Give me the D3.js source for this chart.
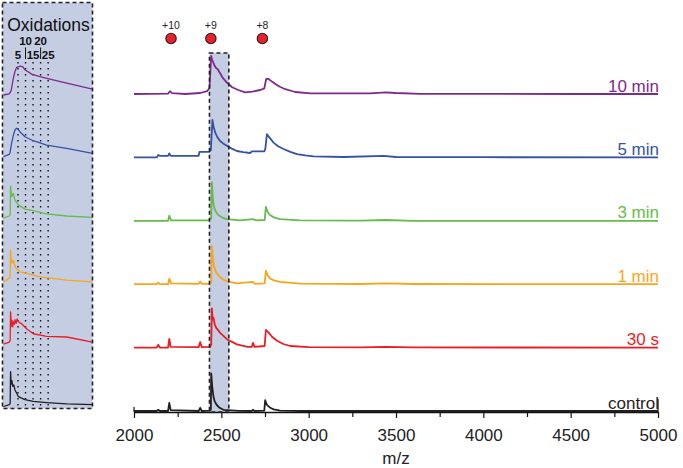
<!DOCTYPE html>
<html><head><meta charset="utf-8">
<script src="https://cdn.jsdelivr.net/npm/d3@7"></script>
<style>
html,body{margin:0;padding:0;background:#fff;}
svg{display:block;font-family:"Liberation Sans",Arial,Helvetica,sans-serif;}
</style>
</head><body>
<svg id="chart" width="683" height="468"></svg>
<script>
// ---------- data ----------
const samples = ["control", "30 s", "1 min", "3 min", "5 min", "10 min"];
const sampleColors = ["#231f20", "#ed1c24", "#f9a51a", "#66bb4a", "#3553a4", "#7e2a8a"];
const xTickValues = [2000, 2500, 3000, 3500, 4000, 4500, 5000];
const chargeLabels = ["+10", "+9", "+8"];
const chargeMz = [2212, 2440, 2735];
const windowMz = [2432, 2543];
const oxidationTicks = [5, 10, 15, 20, 25];

// main spectra: [m/z, relative intensity]
const specControl = [[2000,0],[2130,0],[2139,3],[2148,0],[2195,0],[2202,20],[2210,2],[2370,0],[2379,8],[2388,0],[2436,1],[2440,4],[2442,94],[2448,60],[2455,36],[2462,24],[2474,15],[2490,8],[2512,3],[2600,0.5],[2675,0],[2681,3],[2690,0],[2746,1],[2751,27],[2760,16],[2780,8],[2800,4],[2837,1],[2950,0],[5000,0]];
const spec30s = [[2000,0],[2130,0],[2139,7],[2148,0],[2195,0],[2202,22],[2210,2],[2370,1],[2379,14],[2388,1],[2436,2],[2442,8],[2446,98],[2450,70],[2455,75],[2462,58],[2470,50],[2493,37],[2532,21],[2589,8],[2650,2],[2675,2],[2681,12],[2690,2],[2748,4],[2755,44],[2770,38],[2790,27],[2819,17],[2855,9],[2895,4],[3000,1],[3300,0.5],[3440,2],[3600,0.5],[5000,0]];
const spec1min = [[2000,0],[2130,0],[2139,4],[2148,0],[2195,0],[2202,14],[2212,2],[2370,1],[2379,7],[2388,1],[2436,1],[2442,6],[2446,96],[2452,60],[2459,43],[2470,30],[2484,22],[2505,13],[2532,7],[2589,2],[2681,6],[2690,1],[2748,2],[2755,34],[2765,22],[2780,14],[2805,9],[2837,6],[2950,1.5],[3300,0.5],[3440,2],[3600,0.5],[5000,0]];
const spec3min = [[2000,0],[2195,0],[2202,13],[2212,1],[2430,1],[2442,6],[2446,96],[2452,52],[2459,33],[2470,22],[2484,14],[2505,8],[2532,4],[2608,1],[2681,4],[2700,1],[2748,2],[2755,35],[2765,22],[2780,14],[2805,8],[2837,4],[2950,1],[3300,0.5],[3440,2],[3600,0],[5000,0]];
const spec5min = [[2000,0],[2130,0],[2139,6],[2150,4],[2195,4],[2202,10],[2210,4],[2370,4],[2375,14],[2430,14],[2440,18],[2449,94],[2456,76],[2465,62],[2478,50],[2493,41],[2510,35],[2532,29],[2560,22],[2589,16],[2625,13],[2665,11],[2675,15],[2746,15],[2752,22],[2761,58],[2775,50],[2799,37],[2825,28],[2856,21],[2895,14],[2933,8],[2980,5],[3028,2.5],[3200,1],[3428,4],[3500,1],[4000,0.5],[5000,0]];
const spec10min = [[2000,0],[2092,0.5],[2195,1],[2206,7],[2218,2],[2293,0],[2379,2.5],[2419,7],[2432,15],[2442,95],[2448,85],[2453,80],[2462,70],[2470,65],[2480,62],[2488,55],[2496,50],[2505,42],[2528,30],[2562,17],[2597,10],[2637,4],[2677,6],[2723,10],[2746,14],[2757,38],[2769,38],[2790,31],[2809,25],[2835,18],[2866,12],[2923,5],[3010,1.5],[3182,1.5],[3354,1.5],[3440,4],[3497,2.5],[3640,0.5],[4099,0.5],[4500,0],[5000,0]];

// inset (zoom on +9 ion): [number of oxidations, relative intensity]
const insetControl = [[-4.6,0],[-0.8,5],[-0.2,8],[0.1,97],[0.5,62],[1.0,72],[1.5,56],[2.2,60],[3.0,46],[4.0,38],[5.2,28],[7.0,24],[9.6,19],[15.1,14],[24.0,11],[37.3,7.5],[54.4,5]];
const inset30s = [[-4.6,0],[-0.8,6],[-0.2,10],[0.1,90],[0.6,50],[1.0,66],[1.5,48],[2.0,62],[2.6,55],[3.0,68],[3.8,58],[4.4,70],[5.2,64],[6.0,60],[7.4,57],[10.7,43],[15.1,29],[24.0,22],[37.3,20],[54.4,6]];
const inset1min = [[-4.6,0],[-0.8,10],[-0.2,14],[0.1,89],[0.6,55],[1.0,52],[1.6,60],[2.3,56],[3.0,44],[3.6,38],[6.3,28],[10.7,24],[19.6,14],[37.3,5],[54.4,0]];
const inset3min = [[-4.6,4],[-0.8,10],[-0.2,14],[0.1,93],[0.6,66],[1.0,64],[1.9,73],[3.0,54],[5.2,41],[9.6,29],[15.1,25],[24.0,16],[37.3,10],[54.4,6]];
const inset5min = [[-4.6,2],[-0.8,8],[-0.3,12],[0.8,40],[2.0,62],[3.0,76],[4.1,81],[5.0,78],[6.3,71],[9.6,57],[15.1,46],[24.0,34],[37.3,25],[54.4,11]];
const inset10min = [[-4.6,0],[-0.8,3],[0.3,10],[0.8,20],[2.0,48],[3.0,65],[4.0,76],[5.0,78],[6.5,80],[8.3,78],[9.6,70],[14.1,58],[19.6,51],[26.2,44],[37.3,33],[54.4,16]];

const spectra = [specControl, spec30s, spec1min, spec3min, spec5min, spec10min];
const insets = [insetControl, inset30s, inset1min, inset3min, inset5min, inset10min];

// ---------- drawing ----------
const svg = d3.select("#chart");
const FONT = 17;

const x = d3.scaleLinear().domain([2000, 5000]).range([134, 658]);
const row = d3.scalePoint().domain(samples).range([411, 94]);
const yInt = d3.scaleLinear().domain([0, 100]).range([0, 40]);

const xo = d3.scaleLinear().domain([-4.6, 54.4]).range([3.5, 92.5]);
const rowIn = d3.scalePoint().domain(samples).range([406.5, 95]);
const yIn = d3.scaleLinear().domain([0, 100]).range([0, 36]);

const boxFill = "#c5cde3";

// ---- inset panel ----
const inset = svg.append("g");
inset.append("rect").attr("x", 2.5).attr("y", 2.5).attr("width", 90).attr("height", 406)
  .attr("fill", boxFill).attr("stroke", "none");

inset.append("text").attr("x", 48.5).attr("y", 31).attr("text-anchor", "middle")
  .attr("font-size", 17.5).attr("fill", "#111").text("Oxidations");

oxidationTicks.forEach((n, i) => {
  const top = (i % 2 === 1);
  inset.append("text").attr("x", xo(n)).attr("y", top ? 45 : 58.5)
    .attr("text-anchor", "middle").attr("font-size", 11.5).attr("font-weight", "bold")
    .attr("fill", "#111").text(n);
  if (top) {
    inset.append("line").attr("x1", xo(n)).attr("x2", xo(n)).attr("y1", 47.5).attr("y2", 59)
      .attr("stroke", "#111").attr("stroke-width", 1);
  }
  inset.append("line").attr("x1", xo(n)).attr("x2", xo(n)).attr("y1", 62).attr("y2", 406)
    .attr("stroke", "#111").attr("stroke-width", 1.4).attr("stroke-dasharray", "1.6,4.4");
});

samples.forEach((s, i) => {
  const ln = d3.line().x(d => xo(d[0])).y(d => rowIn(s) - yIn(d[1]));
  inset.append("path").datum(insets[i]).attr("d", ln)
    .attr("fill", "none").attr("stroke", sampleColors[i]).attr("stroke-width", 1.3)
    .attr("stroke-linejoin", "round");
});

inset.append("rect").attr("x", 2.5).attr("y", 2.5).attr("width", 90).attr("height", 406)
  .attr("fill", "none").attr("stroke", "#222").attr("stroke-width", 1.6).attr("stroke-dasharray", "4,3");

// ---- main panel ----
const winX0 = x(windowMz[0]), winX1 = x(windowMz[1]);
svg.append("rect").attr("x", winX0).attr("y", 53).attr("width", winX1 - winX0).attr("height", 412 - 53)
  .attr("fill", boxFill);

// axis
const minorTicks = d3.range(2000, 5001, 250);
const axis = d3.axisBottom(x).tickValues(minorTicks).tickSize(5).tickSizeOuter(0)
  .tickFormat(d => xTickValues.includes(d) ? d3.format("d")(d) : "");
const gAxis = svg.append("g").attr("transform", "translate(0,412)").call(axis);
gAxis.select(".domain").attr("stroke", "#111").attr("stroke-width", 1.3);
gAxis.selectAll(".tick line").attr("stroke", "#111").attr("stroke-width", 1.2)
  .attr("y2", d => xTickValues.includes(d) ? 6 : 5);
gAxis.selectAll(".tick text").attr("font-size", FONT).attr("fill", "#222")
  .attr("font-family", "'Liberation Sans', Arial, sans-serif").attr("dy", "0").attr("y", 29);
[[2000, -5], [5000, -13]].forEach(([v, h]) => {
  gAxis.append("line").attr("x1", x(v)).attr("x2", x(v)).attr("y1", 0).attr("y2", h)
    .attr("stroke", "#111").attr("stroke-width", 1.2);
});

svg.append("text").attr("x", (x(2000) + x(5000)) / 2).attr("y", 464).attr("text-anchor", "middle")
  .attr("font-size", FONT).attr("fill", "#222").text("m/z");

// traces
samples.forEach((s, i) => {
  const ln = d3.line().x(d => x(d[0])).y(d => row(s) - yInt(d[1]));
  svg.append("path").datum(spectra[i]).attr("d", ln)
    .attr("fill", "none").attr("stroke", sampleColors[i]).attr("stroke-width", 1.8)
    .attr("stroke-linejoin", "round");
  svg.append("text").attr("x", x(5000) + 1).attr("y", row(s) - 2.5).attr("text-anchor", "end")
    .attr("font-size", FONT).attr("fill", sampleColors[i]).text(s);
});

svg.append("rect").attr("x", winX0).attr("y", 53).attr("width", winX1 - winX0).attr("height", 412 - 53)
  .attr("fill", "none").attr("stroke", "#222").attr("stroke-width", 1.6).attr("stroke-dasharray", "4,3");

// charge-state markers
chargeLabels.forEach((lab, i) => {
  svg.append("circle").attr("cx", x(chargeMz[i])).attr("cy", 38.5).attr("r", 5.2)
    .attr("fill", "#e8202a").attr("stroke", "#222").attr("stroke-width", 1.1);
  svg.append("text").attr("x", x(chargeMz[i])).attr("y", 29).attr("text-anchor", "middle")
    .attr("font-size", 10.5).attr("fill", "#222").text(lab);
});
</script>
</body></html>
